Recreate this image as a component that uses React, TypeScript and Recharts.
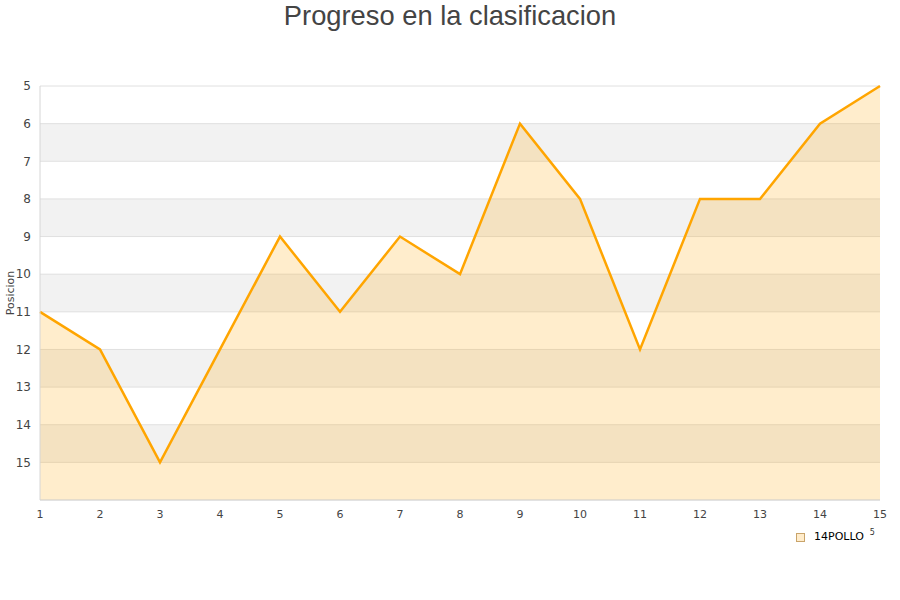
import React from 'react';
import { ComposedChart, Area, XAxis, YAxis, CartesianGrid } from 'recharts';

const jornadas = [1, 2, 3, 4, 5, 6, 7, 8, 9, 10, 11, 12, 13, 14, 15];
const posiciones = [11, 12, 15, 12, 9, 11, 9, 10, 6, 8, 12, 8, 8, 6, 5];
const yTicks = [5, 6, 7, 8, 9, 10, 11, 12, 13, 14, 15];
const seriesName = '14POLLO';
const title = 'Progreso en la clasificacion';
const yLabel = 'Posicion';

const data = jornadas.map((j, i) => ({ jornada: j, pos: posiciones[i] }));

export default function App() {
  return (
    <div style={{ position: 'absolute', left: 0, top: 0, width: 900, height: 600, background: '#fff' }}>
      <div
        style={{
          position: 'absolute',
          left: 0,
          top: 0,
          width: 900,
          textAlign: 'center',
          fontFamily: '"Liberation Sans", Arial, sans-serif',
          fontSize: 27.3,
          color: '#444',
          lineHeight: '32px',
        }}
      >
        {title}
      </div>
      <ComposedChart width={900} height={600} data={data} margin={{ top: 86, right: 20, bottom: 70, left: 0 }}>
        <CartesianGrid
          vertical={false}
          stroke="#e0e0e0"
          horizontalFill={['#ffffff', '#f2f2f2']}
          fillOpacity={1}
        />
        <XAxis
          dataKey="jornada"
          type="number"
          domain={[1, 15]}
          ticks={jornadas}
          height={30}
          tickLine={false}
          tickSize={0}
          axisLine={{ stroke: '#d6d6d6' }}
          tick={{ fontFamily: 'DejaVu Sans', fontSize: 11, fill: '#444' }}
          tickMargin={10}
        />
        <YAxis
          type="number"
          reversed
          domain={[5, 16]}
          ticks={yTicks}
          width={40}
          interval={0}
          tickLine={false}
          tickSize={0}
          axisLine={{ stroke: '#d6d6d6' }}
          tick={{ fontFamily: 'DejaVu Sans', fontSize: 12, fill: '#444' }}
          tickMargin={9}
          label={{
            value: yLabel,
            angle: -90,
            position: 'insideLeft',
            offset: 10,
            style: { fontFamily: 'DejaVu Sans', fontSize: 11, fill: '#444', textAnchor: 'middle' },
          }}
        />
        <Area
          type="linear"
          dataKey="pos"
          name={seriesName}
          baseValue={16}
          stroke="#ffa500"
          strokeWidth={2.5}
          fill="#ffa500"
          fillOpacity={0.2}
          dot={false}
          activeDot={false}
          isAnimationActive={false}
        />
      </ComposedChart>
      <div
        style={{
          position: 'absolute',
          left: 796,
          top: 530,
          display: 'flex',
          alignItems: 'center',
          fontFamily: 'DejaVu Sans',
          fontSize: 11,
          color: '#000',
          lineHeight: '14px',
        }}
      >
        <span
          style={{
            display: 'inline-block',
            width: 7,
            height: 7,
            background: '#ffeccb',
            border: '1px solid #c9a46a',
            marginRight: 9,
          }}
        />
        <span>{seriesName}</span>
        <span style={{ fontSize: 8, marginLeft: 6, position: 'relative', top: -4, color: '#333' }}>5</span>
      </div>
    </div>
  );
}
